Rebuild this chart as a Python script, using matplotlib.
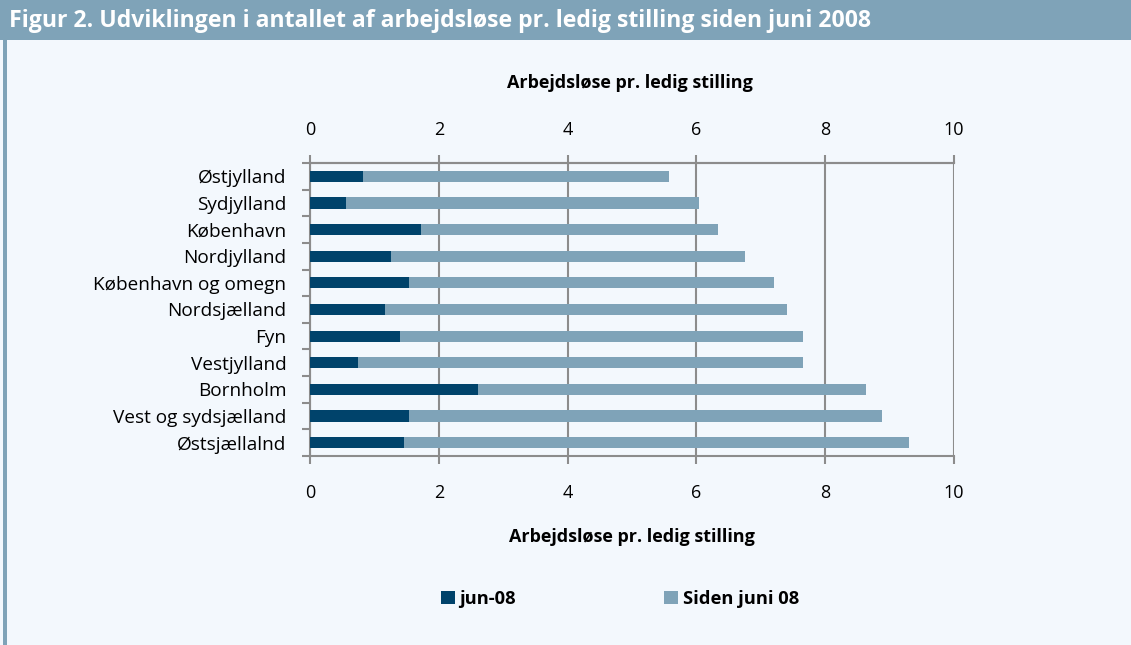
import matplotlib.pyplot as plt
import numpy as np

plt.rcParams['font.family'] = ['Open Sans', 'DejaVu Sans']

regions = ['Østjylland', 'Sydjylland', 'København', 'Nordjylland',
           'København og omegn', 'Nordsjælland', 'Fyn', 'Vestjylland',
           'Bornholm', 'Vest og sydsjælland', 'Østsjællalnd']
jun08 = [0.83, 0.56, 1.72, 1.26, 1.54, 1.16, 1.40, 0.75, 2.61, 1.53, 1.46]
total = [5.57, 6.04, 6.34, 6.75, 7.20, 7.40, 7.65, 7.65, 8.63, 8.88, 9.30]
siden = [t - j for t, j in zip(total, jun08)]
ticks = [0, 2, 4, 6, 8, 10]

dark = '#00436B'
light = '#7FA3B8'
bg = '#F3F8FD'
grid = '#8C8C8C'

fig = plt.figure(figsize=(11.31, 6.45), dpi=100)
fig.patch.set_facecolor(bg)

# title bar + left frame line
fig.patches.append(plt.Rectangle((0, 1 - 40 / 645), 1, 40 / 645, transform=fig.transFigure,
                                 facecolor=light, edgecolor='none', zorder=0))
fig.patches.append(plt.Rectangle((3 / 1131, 0), 4 / 1131, 1 - 40 / 645, transform=fig.transFigure,
                                 facecolor=light, edgecolor='none', zorder=0))
fig.text(9 / 1131, 1 - 21 / 645, 'Figur 2. Udviklingen i antallet af arbejdsløse pr. ledig stilling siden juni 2008',
         color='white', fontsize=16.6, fontweight='bold', va='center', ha='left')

ax = fig.add_axes([310 / 1131, 1 - 456 / 645, 644 / 1131, 293 / 645])
ax.set_facecolor(bg)

y = np.arange(len(regions))
ax.barh(y, jun08, height=0.42, color=dark, label='jun-08', zorder=3)
ax.barh(y, siden, left=jun08, height=0.42, color=light, label='Siden juni 08', zorder=3)

ax.set_xlim(0, 10)
ax.set_ylim(len(regions) - 0.5, -0.5)
ax.set_xticks(ticks)
ax.set_yticks(np.arange(len(regions) + 1) - 0.5, minor=False)
ax.set_yticklabels([])
ax.set_yticks(y, minor=True)
ax.set_yticklabels(regions, minor=True, fontsize=13.7)
ax.tick_params(axis='y', which='minor', length=0, pad=17)
ax.tick_params(axis='y', which='major', length=6, width=1.5, color=grid, direction='out')
ax.tick_params(axis='x', length=6, width=1.5, color=grid, labelsize=13, pad=14)
ax.xaxis.grid(True, color=grid, linewidth=1.5, zorder=1)
for s in ['left', 'bottom', 'top']:
    ax.spines[s].set_color(grid)
    ax.spines[s].set_linewidth(1.5)
ax.spines['right'].set_visible(False)

top = ax.secondary_xaxis('top')
top.set_xticks(ticks)
top.tick_params(length=6, width=1.5, color=grid, labelsize=13, pad=11)
top.spines['top'].set_color(grid)
top.spines['top'].set_linewidth(1.5)

ax.set_xlabel('Arbejdsløse pr. ledig stilling', fontsize=13, fontweight='bold', labelpad=19)
fig.text(630 / 1131, 1 - 83 / 645, 'Arbejdsløse pr. ledig stilling', fontsize=13,
         fontweight='bold', ha='center', va='center')

ax.legend(loc='center', bbox_to_anchor=(620 / 1131, 1 - 599 / 645), bbox_transform=fig.transFigure,
          ncol=2, frameon=False, prop={'weight': 'bold', 'size': 13.2},
          handlelength=0.75, handleheight=0.75, handletextpad=0.25, columnspacing=8.1)

fig.savefig('out.png', dpi=100, facecolor=bg)
